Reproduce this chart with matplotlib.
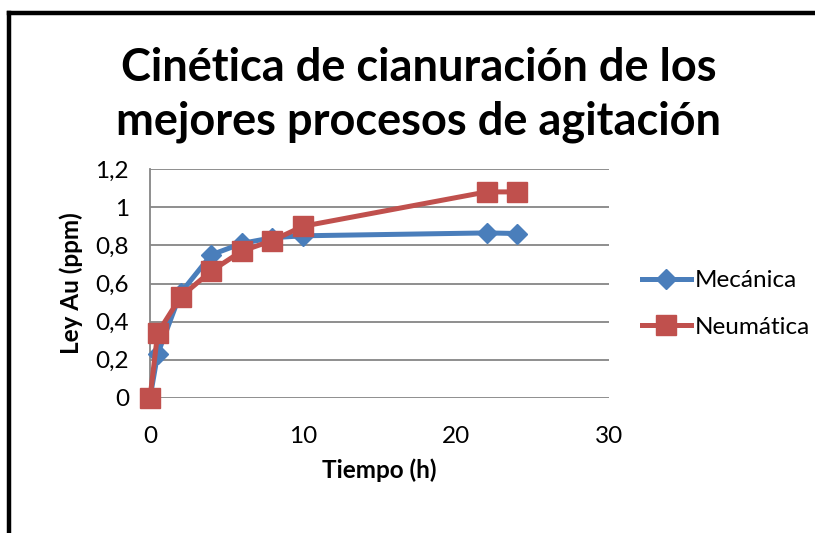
import matplotlib.pyplot as plt
from matplotlib.ticker import FuncFormatter
from matplotlib.lines import Line2D

plt.rcParams['font.family'] = ['Lato', 'DejaVu Sans']

# Tiempo (h) y ley de oro (ppm) por tipo de agitación
tiempo = [0, 0.5, 2, 4, 6, 8, 10, 22, 24]
ley_mecanica = [0, 0.23, 0.55, 0.75, 0.81, 0.84, 0.85, 0.865, 0.862]
ley_neumatica = [0, 0.34, 0.53, 0.665, 0.77, 0.825, 0.90, 1.08, 1.08]

AZUL = '#4A7EBB'
ROJO = '#C0504D'
GRIS = '#868686'

fig = plt.figure(figsize=(8.15, 5.33), dpi=100)
ax = fig.add_axes([150 / 815, 1 - 398 / 533, 459 / 815, 229 / 533])

ax.plot(tiempo, ley_mecanica, color=AZUL, lw=3.6, marker='D', ms=10.5,
        mfc=AZUL, mec=AZUL, clip_on=False, zorder=3, label='Mecánica')
ax.plot(tiempo, ley_neumatica, color=ROJO, lw=3.6, marker='s', ms=14.5,
        mfc=ROJO, mec=ROJO, clip_on=False, zorder=4, label='Neumática')

ax.set_xlim(0, 30)
ax.set_ylim(0, 1.2)
ax.set_xticks([0, 10, 20, 30])
ax.set_yticks([0, 0.2, 0.4, 0.6, 0.8, 1.0, 1.2])
ax.yaxis.set_major_formatter(FuncFormatter(lambda v, p: f'{v:g}'.replace('.', ',')))
ax.tick_params(length=0, labelsize=17.5)
ax.tick_params(axis='y', pad=15)
ax.tick_params(axis='x', pad=20)
ax.grid(True, axis='y', color=GRIS, lw=1.3)
ax.set_axisbelow(True)
for s in ['top', 'right', 'bottom']:
    ax.spines[s].set_visible(False)
ax.spines['left'].set_color(GRIS)
ax.spines['left'].set_linewidth(1.3)

ax.set_xlabel('Tiempo (h)', fontsize=17.5, fontweight='bold', va='center')
ax.set_ylabel('Ley Au (ppm)', fontsize=17.5, fontweight='bold', va='center')
ax.xaxis.set_label_coords(0.5, (398 - 470) / 229)
ax.yaxis.set_label_coords((71 - 150) / 459, 0.5)

fig.text(419 / 815, 1 - 95 / 533,
         'Cinética de cianuración de los\nmejores procesos de agitación',
         ha='center', va='center', fontsize=32.5, fontweight='bold',
         linespacing=1.32)

handles = [Line2D([], [], color=AZUL, lw=3.6, marker='D', ms=10.5),
           Line2D([], [], color=ROJO, lw=3.6, marker='s', ms=14.5)]
fig.legend(handles, ['Mecánica', 'Neumática'], loc='center left',
           bbox_to_anchor=(630 / 815, 1 - 304 / 533), frameon=False,
           fontsize=17.5, handlelength=2.0, handletextpad=0.15,
           labelspacing=1.05, borderpad=0)

# marco del área del gráfico (lados izquierdo y superior)
fig.add_artist(Line2D([9 / 815, 9 / 815], [0, 1 - 12.5 / 533],
                      transform=fig.transFigure, color='black', lw=3.2,
                      solid_capstyle='projecting'))
fig.add_artist(Line2D([9 / 815, 1], [1 - 12.5 / 533, 1 - 12.5 / 533],
                      transform=fig.transFigure, color='black', lw=3.2,
                      solid_capstyle='projecting'))

fig.savefig('out.png', dpi=100)
